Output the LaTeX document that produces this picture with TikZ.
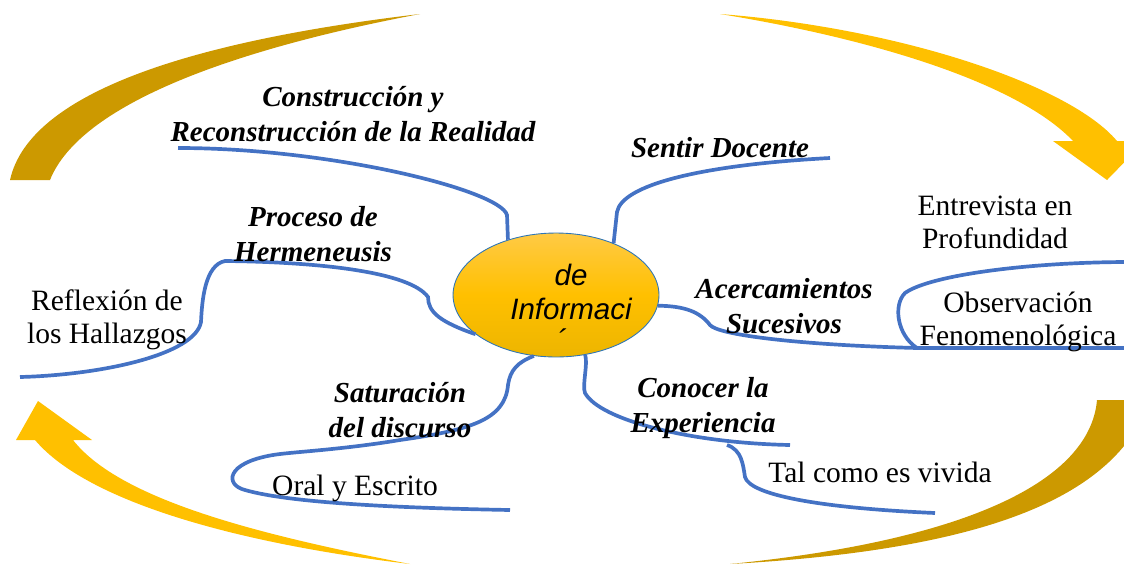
\documentclass[tikz,border=0pt]{standalone}
\usepackage{fontspec}
\setmainfont{Liberation Serif}
\newfontfamily\hubfont{Liberation Sans}
\usetikzlibrary{shapes.geometric}
\definecolor{branchblue}{HTML}{4472C4}
\definecolor{hubline}{HTML}{2E75B6}
\definecolor{darkgold}{HTML}{CC9900}
\definecolor{brightgold}{HTML}{FFC000}
\definecolor{hubtop}{HTML}{FFCA45}
\definecolor{hubbottom}{HTML}{EDB500}

\begin{document}
\begin{tikzpicture}[x=0.02cm,y=-0.02cm,
  branch/.style={draw=branchblue,line width=2.1pt},
  hub/.style={ellipse,draw=hubline,line width=0.5pt,inner sep=0pt,
    minimum width=4.12cm,minimum height=2.48cm,
    top color=hubtop,bottom color=hubbottom,middle color=brightgold},
  hubtext/.style={font=\hubfont\itshape\fontsize{16.8}{19.5}\selectfont,align=center,inner sep=0pt},
  topic/.style={font=\fontsize{16.5}{19.5}\selectfont\bfseries\itshape,align=center,inner sep=0pt},
  leaf/.style={font=\fontsize{16.8}{18.9}\selectfont,align=center,inner sep=0pt}]
\useasboundingbox (0,0) rectangle (1124,565);
\clip (0,0) rectangle (1124,565);

% curved arrows round the map
\fill[darkgold] (10,180) .. controls (30,90) and (200,40) .. (420,14)
  .. controls (230,50) and (80,105) .. (50,180) -- cycle;
\fill[brightgold] (720,14) .. controls (900,28) and (1070,85) .. (1117,141)
  -- (1145,141) -- (1107,180) -- (1053,141) -- (1073,141)
  .. controls (1020,85) and (880,40) .. (720,14) -- cycle;
\fill[darkgold] (1097,400) .. controls (1090,480) and (970,540) .. (730,564)
  .. controls (980,550) and (1115,500) .. (1150,400) -- cycle;
\fill[brightgold] (35,440) -- (16,440) -- (38,401) -- (92,440) -- (73,440)
  .. controls (120,500) and (260,535) .. (410,564)
  .. controls (250,545) and (90,505) .. (35,440) -- cycle;

% centre
\node[hub] (hub) at (556,295) {};
\node[hubtext] (hublabel) at (571,292) {de\\Informaci};
\begin{scope}
\clip (480,300) rectangle (640,332);
\node[hubtext,anchor=base] (hubcut) at (560,350) {ó};
\end{scope}

% branch ends
\coordinate (realidadend) at (178,148);
\coordinate (sentirend) at (830,158);
\coordinate (reflexend) at (20,377);
\coordinate (acerend) at (1130,348);
\coordinate (obsfork) at (917,348);
\coordinate (obsend) at (1130,262);
\coordinate (oralend) at (510,510);
\coordinate (experend) at (790,445);
\coordinate (vividafork) at (727,445);
\coordinate (vividaend) at (935,513);

% branches
\draw[branch] (hub.131) -- (507,215) .. controls (500,190) and (330,148) .. (realidadend);
\draw[branch] (hub.42) -- (617,212) .. controls (622,185) and (700,165) .. (sentirend);
\draw[branch] (hub.206) .. controls (440,322) and (428,312) .. (428,297)
  .. controls (410,272) and (320,262) .. (225,261)
  .. controls (205,265) and (202,300) .. (201,322)
  .. controls (195,355) and (100,375) .. (reflexend);
\draw[branch] (hub.354) .. controls (685,306) and (700,312) .. (710,325)
  .. controls (718,335) and (800,345) .. (obsfork) -- (acerend);
\draw[branch] (obsfork) .. controls (897,335) and (893,305) .. (905,293)
  .. controls (930,275) and (1030,262) .. (obsend);
\draw[branch] (hub.250) .. controls (518,362) and (510,370) .. (508,385)
  .. controls (505,420) and (470,430) .. (400,440)
  .. controls (340,450) and (290,452) .. (273,455)
  .. controls (225,463) and (225,485) .. (245,490)
  .. controls (290,503) and (400,508) .. (oralend);
\draw[branch] (hub.296) .. controls (588,365) and (582,385) .. (585,393)
  .. controls (600,420) and (690,443) .. (experend);
\draw[branch] (vividafork) .. controls (742,450) and (743,465) .. (745,477)
  .. controls (750,495) and (820,508) .. (vividaend);

% labels
\node[topic] (realidad) at (353,114) {Construcción y\\Reconstrucción de la Realidad};
\node[topic,anchor=base] (sentir) at (720,157) {Sentir Docente};
\node[topic] (proceso) at (313,234) {Proceso de\\Hermeneusis};
\node[topic] (acercamientos) at (784,306) {Acercamientos\\Sucesivos};
\node[topic] (saturacion) at (400,410) {Saturación\\del discurso};
\node[topic] (conocer) at (703,408) {Conocer la\\Experiencia};
\node[leaf] (entrevista) at (995,222) {Entrevista en\\Profundidad};
\node[leaf] (observacion) at (1018,322) {Observación\\Fenomenológica};
\node[leaf] (reflexion) at (107,320) {Reflexión de\\los Hallazgos};
\node[leaf,anchor=base] (oral) at (355,495) {Oral y Escrito};
\node[leaf,anchor=base] (vivida) at (880,482) {Tal como es vivida};
\end{tikzpicture}
\end{document}
